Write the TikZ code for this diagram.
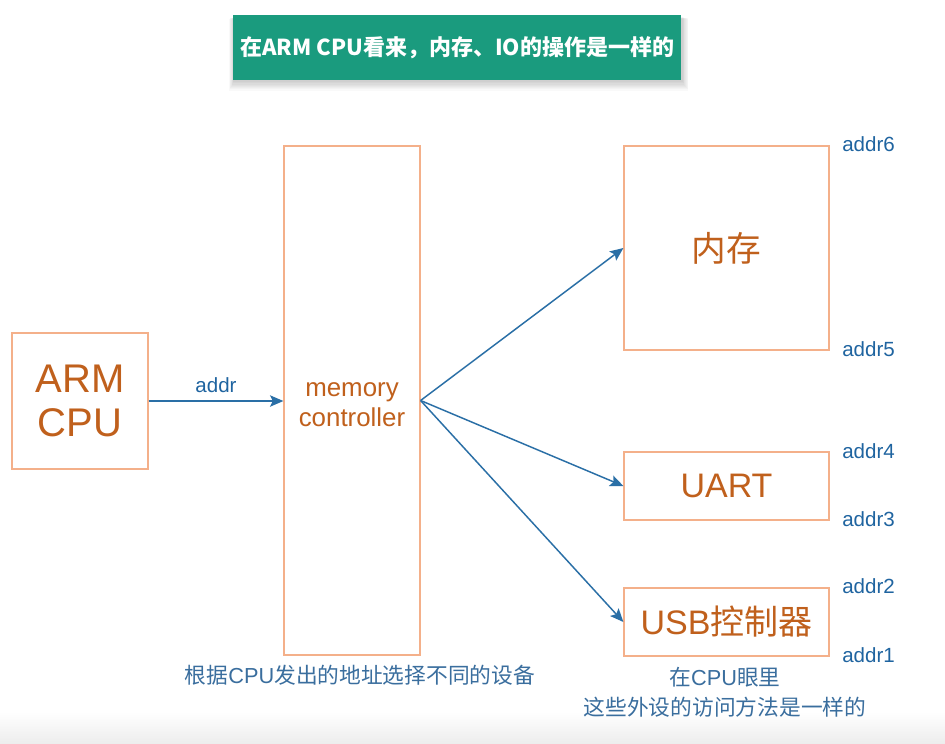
\documentclass[tikz,border=0pt]{standalone}
\usepackage{fontspec}
\setmainfont{Liberation Sans}
\newfontfamily\cjk{Noto Sans CJK SC}
\usetikzlibrary{arrows.meta}
\definecolor{boxline}{HTML}{F4B08A}
\definecolor{boxtext}{HTML}{C0601C}
\definecolor{addrblue}{HTML}{1F64A0}
\definecolor{arrowblue}{HTML}{2A6FA6}
\definecolor{notetext}{HTML}{3A6E9E}
\definecolor{titlegreen}{HTML}{1A9B7E}
\tikzset{
  unitbox/.style={draw=boxline, line width=0.9pt, align=center, text=boxtext, inner sep=0pt},
  addrlabel/.style={anchor=west, text=addrblue, inner sep=0pt, font=\fontsize{15.4}{18}\selectfont},
  conn/.style={draw=arrowblue, line width=1.1pt, -{Stealth[length=10pt,width=8.5pt,inset=2pt]}},
  note/.style={text=notetext, inner sep=0pt, font=\fontsize{16.3}{20}\selectfont},
  softshadow/.style={fill=black, opacity=0.022, draw=none},
}
\begin{document}
\begin{tikzpicture}[x=0.75pt,y=-0.75pt]
\useasboundingbox (0,0) rectangle (945,743);
\fill[white] (0,0) rectangle (945,743);
\shade[top color=white, bottom color=black!7] (0,712) rectangle (945,743);

% title banner shadow
\foreach \d in {1,2,...,8}{
  \fill[softshadow] (233+1-0.6*\d,15+2+0.2*\d) rectangle (681+1+0.8*\d,80+1+1.2*\d);
}
% title banner
\node (title) [fill=titlegreen, minimum width=448*0.75pt, minimum height=65*0.75pt, inner sep=0pt,
  text=white, font=\cjk\bfseries\fontsize{16.5}{20}\selectfont] at (457,47.5)
  {在ARM CPU看来，内存、IO的操作是一样的};

% boxes
\node (cpu) [unitbox, minimum width=136*0.75pt, minimum height=136*0.75pt,
  font=\fontsize{30}{33.5}\selectfont] at (80,401) {ARM\\CPU};
\node (mc) [unitbox, minimum width=136*0.75pt, minimum height=509*0.75pt,
  label={[name=mctext, align=center, text=boxtext, inner sep=0pt, yshift=-3pt,
    font=\fontsize{19.4}{22.5}\selectfont]center:memory\\controller}] at (352,400.5) {};
\node (mem) [unitbox, minimum width=205*0.75pt, minimum height=204*0.75pt,
  font=\cjk\fontsize{26}{30}\selectfont] at (726.5,248) {内存};
\node (uart) [unitbox, minimum width=205*0.75pt, minimum height=68*0.75pt,
  font=\fontsize{25.5}{30}\selectfont] at (726.5,486) {UART};
\node (usb) [unitbox, minimum width=205*0.75pt, minimum height=68*0.75pt,
  font=\fontsize{25.5}{30}\selectfont] at (726.5,622) {USB{\cjk 控制器}};

% connectors
\draw[conn] (cpu.east) -- node[above=6pt, text=addrblue, inner sep=0pt, font=\fontsize{15.4}{18}\selectfont] (addrlab) {addr} (mc.west |- cpu.east);
\draw[conn] (mc.east) -- (mem.west);
\draw[conn] (mc.east) -- (uart.west);
\draw[conn] (mc.east) -- (usb.west);

% address labels
\node (a6) [addrlabel] at (842,144) {addr6};
\node (a5) [addrlabel] at (842,349) {addr5};
\node (a4) [addrlabel] at (842,451) {addr4};
\node (a3) [addrlabel] at (842,519) {addr3};
\node (a2) [addrlabel] at (842,586) {addr2};
\node (a1) [addrlabel] at (842,655) {addr1};

% notes
\node (n1) [note] at (360,675) {\cjk 根据{\rmfamily CPU}发出的地址选择不同的设备};
\node (n2) [note] at (725,677) {\cjk 在{\rmfamily CPU}眼里};
\node (n3) [note] at (725,707) {\cjk 这些外设的访问方法是一样的};
\end{tikzpicture}
\end{document}
